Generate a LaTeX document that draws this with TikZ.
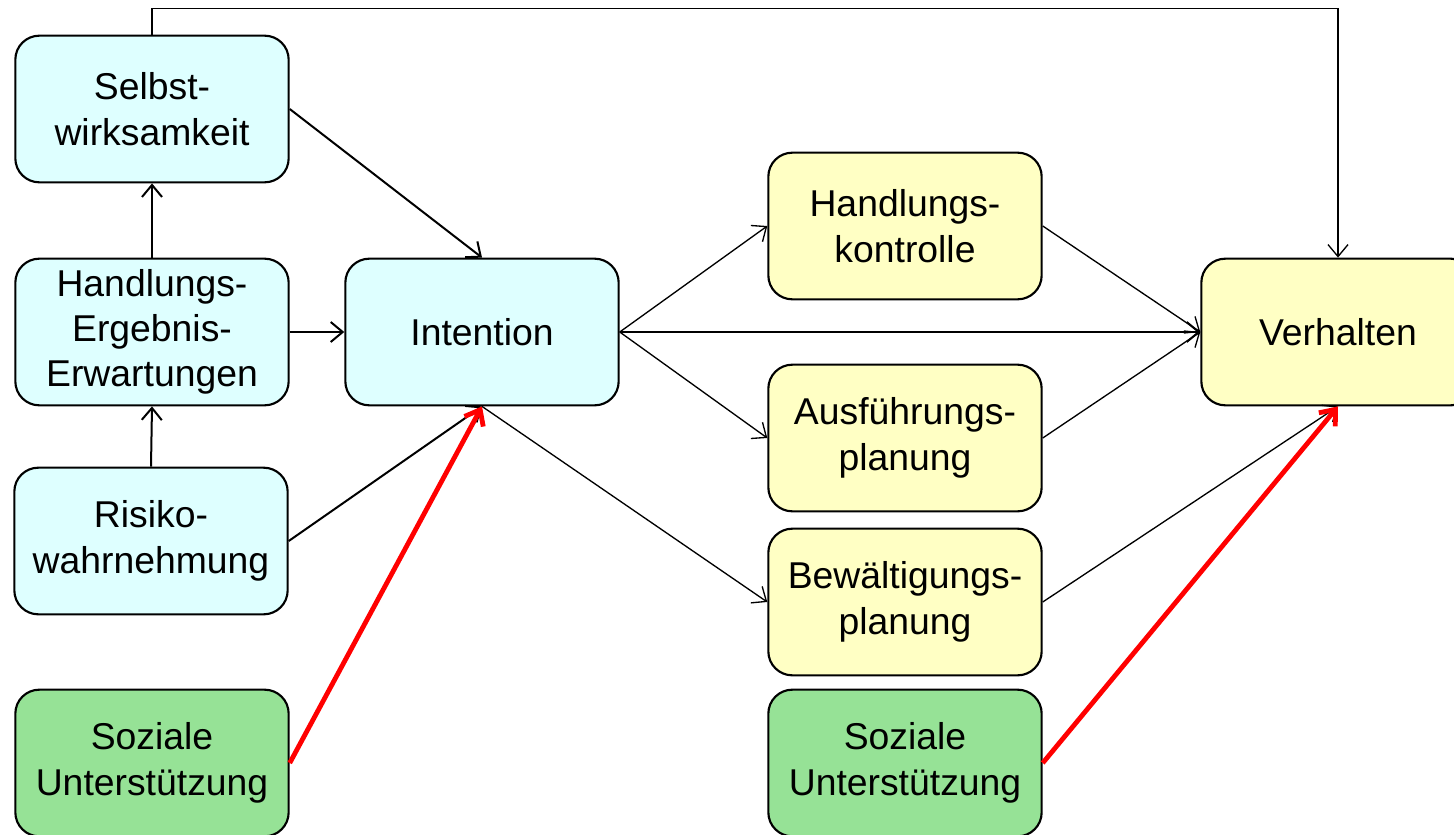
\documentclass[tikz,border=0pt]{standalone}
\usepackage{fontspec}
\setmainfont{Liberation Sans}
\usetikzlibrary{arrows.meta,positioning}
\definecolor{hellcyan}{RGB}{222,255,255}
\definecolor{hellgelb}{RGB}{255,255,196}
\definecolor{sozgruen}{RGB}{150,226,150}

\begin{document}
\begin{tikzpicture}[x=0.75pt, y=-0.75pt,
    box/.style={draw=black, line width=1.6pt, rounded corners=18pt, minimum width=205pt, minimum height=110pt, inner sep=0pt, align=center, font=\fontsize{28}{34}\selectfont},
    motiv/.style={box, fill=hellcyan},
    volition/.style={box, fill=hellgelb},
    sozial/.style={box, fill=sozgruen},
    pfeil/.style={-{Straight Barb[length=9pt,width=15pt]}, line width=1pt},
    dickpfeil/.style={pfeil, line width=1.5pt},
    rotpfeil/.style={-{Straight Barb[length=10pt,width=16pt]}, red, line width=3.6pt}
]
\useasboundingbox (0,0) rectangle (1454,835);

% motivationale Phase
\node[motiv] (selbst) at (152,109) {Selbst-\\wirksamkeit};
\node[motiv] (hee) at (152,332) {Handlungs-\\Ergebnis-\\Erwartungen};
\node[motiv] (risiko) at (151,541) {Risiko-\\wahrnehmung};
\node[sozial] (sozial1) at (152,763) {Soziale\\Unterstützung};
\node[motiv] (intention) at (482,332) {Intention};

% volitionale Phase
\node[volition] (hkontrolle) at (905,226) {Handlungs-\\kontrolle};
\node[volition] (ausf) at (905,438) {Ausführungs-\\planung};
\node[volition] (bewaelt) at (905,602) {Bewältigungs-\\planung};
\node[sozial] (sozial2) at (905,763) {Soziale\\Unterstützung};
\node[volition] (verhalten) at (1338,332) {Verhalten};

% Pfeile
\draw[pfeil] (selbst.north) -- ++(0,-26) -| (verhalten.north);
\draw[dickpfeil] (selbst.east) -- (intention.north);
\draw[dickpfeil] (hee.north) -- (selbst.south);
\draw[dickpfeil] (risiko.north) -- (hee.south);
\draw[dickpfeil] (hee.east) -- (intention.west);
\draw[dickpfeil] (risiko.east) -- (intention.south);
\draw[rotpfeil] (sozial1.east) -- (intention.south);
\draw[pfeil] (intention.east) -- (hkontrolle.west);
\draw[dickpfeil] (intention.east) -- (verhalten.west);
\draw[pfeil] (intention.east) -- (ausf.west);
\draw[pfeil] (intention.south) -- (bewaelt.west);
\draw[pfeil] (hkontrolle.east) -- (verhalten.west);
\draw[pfeil] (ausf.east) -- (verhalten.west);
\draw[pfeil] (bewaelt.east) -- (verhalten.south);
\draw[rotpfeil] (sozial2.east) -- (verhalten.south);
\end{tikzpicture}
\end{document}
